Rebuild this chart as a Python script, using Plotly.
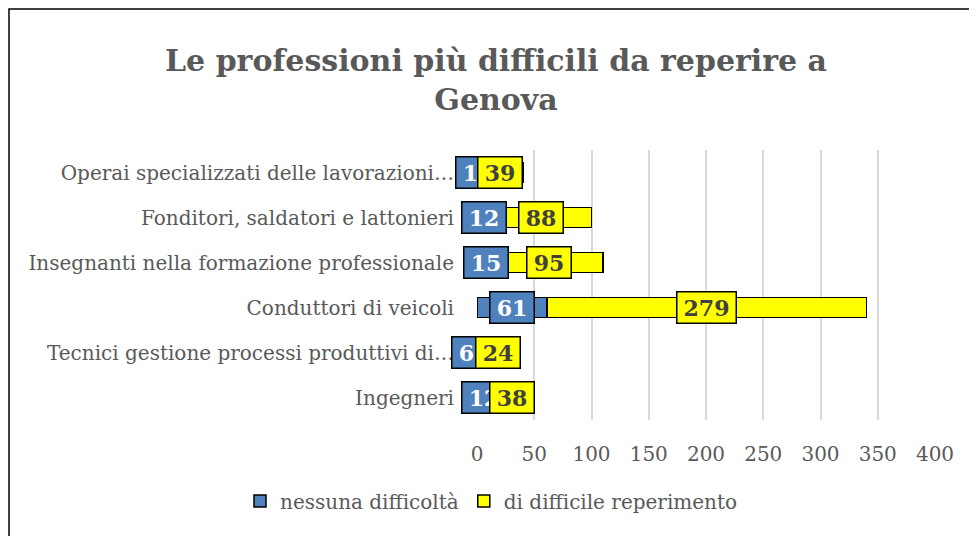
import plotly.graph_objects as go

categories = [
    "Ingegneri",
    "Tecnici gestione processi produttivi di…",
    "Conduttori di veicoli",
    "Insegnanti nella formazione professionale",
    "Fonditori, saldatori e lattonieri",
    "Operai specializzati delle lavorazioni…",
]
nessuna = [12, 6, 61, 15, 12, 1]
difficile = [38, 24, 279, 95, 88, 39]
series_names = ["nessuna difficoltà", "di difficile reperimento"]
x_ticks = [0, 50, 100, 150, 200, 250, 300, 350, 400]

BLUE = "#4F81BD"
YELLOW = "#FFFF00"
GRAY = "#595959"
FONT = "DejaVu Serif"

fig = go.Figure()
fig.add_trace(go.Bar(
    y=categories, x=nessuna, orientation="h", name=series_names[0],
    marker=dict(color=BLUE, line=dict(color="black", width=1.5)),
))
fig.add_trace(go.Bar(
    y=categories, x=difficile, orientation="h", name=series_names[1],
    marker=dict(color=YELLOW, line=dict(color="black", width=1.5)),
))


def box_w(v):
    return 15 * len(str(v)) + 9


# data labels (boxed), placed at the centre of each segment
blue_shift = [0, -14, 0, 0, 0, -7]
annotations = []
for i, c in enumerate(categories):
    annotations.append(dict(
        x=nessuna[i] / 2, y=c, xref="x", yref="y", text=f"<b>{nessuna[i]}</b>",
        showarrow=False, xshift=blue_shift[i], width=box_w(nessuna[i]),
        font=dict(family=FONT, size=22, color="white"),
        bgcolor=BLUE, bordercolor="black", borderwidth=1.5, borderpad=2,
    ))
for i, c in enumerate(categories):
    annotations.append(dict(
        x=nessuna[i] + difficile[i] / 2, y=c, xref="x", yref="y", text=f"<b>{difficile[i]}</b>",
        showarrow=False, width=box_w(difficile[i]),
        font=dict(family=FONT, size=22, color="#404040"),
        bgcolor=YELLOW, bordercolor="black", borderwidth=1.5, borderpad=2,
    ))

# page body adds an 8px offset; margins compensate so the plot area sits at
# screen x 477..935, y 150..420
fig.update_layout(
    width=977, height=536,
    barmode="stack", bargap=0.56,
    paper_bgcolor="white", plot_bgcolor="white",
    margin=dict(l=469, r=50, t=142, b=124),
    font=dict(family=FONT, color=GRAY),
    title=dict(
        text="<b>Le professioni più difficili da reperire a<br>Genova</b>",
        x=488 / 977, xanchor="center", y=1 - 63 / 536, yanchor="middle", yref="container",
        font=dict(family=FONT, size=30, color=GRAY),
    ),
    xaxis=dict(
        range=[0, 400], tickvals=x_ticks, ticktext=[str(v) for v in x_ticks],
        showgrid=True, gridcolor="#D9D9D9", gridwidth=1.5, zeroline=False,
        showline=False, tickfont=dict(family=FONT, size=20, color=GRAY),
        ticks="", ticklabelstandoff=20,
    ),
    yaxis=dict(
        categoryorder="array", categoryarray=categories,
        showgrid=False, showline=False, ticks="",
        tickfont=dict(family=FONT, size=20, color=GRAY),
        ticklabelstandoff=22,
    ),
    legend=dict(
        orientation="h", x=(240 - 477) / 458, xanchor="left", y=-0.30, yanchor="middle",
        font=dict(family=FONT, size=20, color=GRAY), traceorder="normal",
        itemwidth=30,
    ),
    annotations=annotations,
    shapes=[dict(
        type="rect", xref="paper", yref="paper",
        x0=(9 - 477) / 458, x1=(975 - 477) / 458,
        y0=(420 - 545) / 270, y1=(420 - 9) / 270,
        line=dict(color="black", width=1.5), fillcolor="rgba(0,0,0,0)", layer="below",
    )],
    showlegend=True,
)

fig.write_html("out.html")
